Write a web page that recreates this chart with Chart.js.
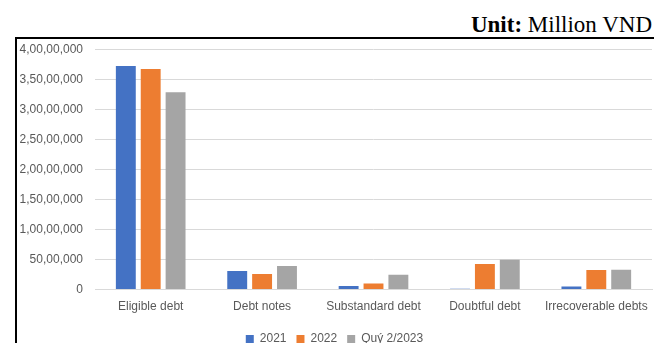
<!DOCTYPE html>
<html>
<head>
<meta charset="utf-8">
<script src="https://cdn.jsdelivr.net/npm/chart.js@4"></script>
<style>
  html, body { margin: 0; padding: 0; background: #fff; }
  body { width: 654px; height: 343px; position: relative; overflow: hidden; }
  #unit {
    position: absolute; right: 2px; top: 12px;
    font-family: "Liberation Serif", "Times New Roman", serif; font-size: 23px; color: #000;
  }
  #box {
    position: absolute; left: 15px; top: 37px; width: 650px; height: 320px;
    border-top: 2px solid #000; border-left: 2px solid #000;
  }
  #wrap { position: absolute; left: 17px; top: 30px; width: 637px; height: 325px; }
</style>
</head>
<body>
<div id="unit"><b>Unit:</b> Million VND</div>
<div id="box"></div>
<div id="wrap"><canvas id="debtChart"></canvas></div>
<script>
// Data
const categories = ["Eligible debt", "Debt notes", "Substandard debt", "Doubtful debt", "Irrecoverable debts"];
const seriesNames = ["2021", "2022", "Quý 2/2023"];
const values2021 = [37200000, 3090000, 600000, 150000, 500000];
const values2022 = [36700000, 2590000, 1000000, 4250000, 3250000];
const valuesQ2 = [32850000, 3920000, 2490000, 4980000, 3320000];
const tickValues = [0, 5000000, 10000000, 15000000, 20000000, 25000000, 30000000, 35000000, 40000000];
const tickLabels = ["0", "50,00,000", "1,00,00,000", "1,50,00,000", "2,00,00,000", "2,50,00,000", "3,00,00,000", "3,50,00,000", "4,00,00,000"];

const colors = ["#4472C4", "#ED7D31", "#A5A5A5"];
const font = { family: "'Liberation Sans', Arial, sans-serif", size: 12 };

const ctx = document.getElementById("debtChart").getContext("2d");

new Chart(ctx, {
  type: "bar",
  data: {
    labels: categories,
    datasets: [values2021, values2022, valuesQ2].map((d, i) => ({
      label: seriesNames[i],
      data: d,
      backgroundColor: colors[i],
      barPercentage: 0.8,
      categoryPercentage: 0.67
    }))
  },
  options: {
    responsive: true,
    maintainAspectRatio: false,
    animation: false,
    layout: { padding: { top: 0, right: 2, left: 0, bottom: 0 } },
    plugins: {
      legend: {
        position: "bottom",
        labels: { font, color: "#595959", boxWidth: 8, boxHeight: 8, padding: 10 }
      },
      tooltip: { enabled: false }
    },
    scales: {
      x: {
        afterFit: s => { s.height += 7; },
        grid: { display: false },
        border: { display: true, color: "#d9d9d9" },
        ticks: { font, color: "#595959", maxRotation: 0, autoSkip: false, padding: 2 }
      },
      y: {
        min: 0,
        max: 40000000,
        afterFit: s => { s.width = 78; },
        afterBuildTicks: s => { s.ticks = tickValues.map(v => ({ value: v })); },
        grid: { color: "#d9d9d9", drawTicks: false },
        border: { display: false },
        ticks: {
          font, color: "#595959", padding: 12,
          callback: v => tickLabels[tickValues.indexOf(v)]
        }
      }
    }
  }
});
</script>
</body>
</html>
